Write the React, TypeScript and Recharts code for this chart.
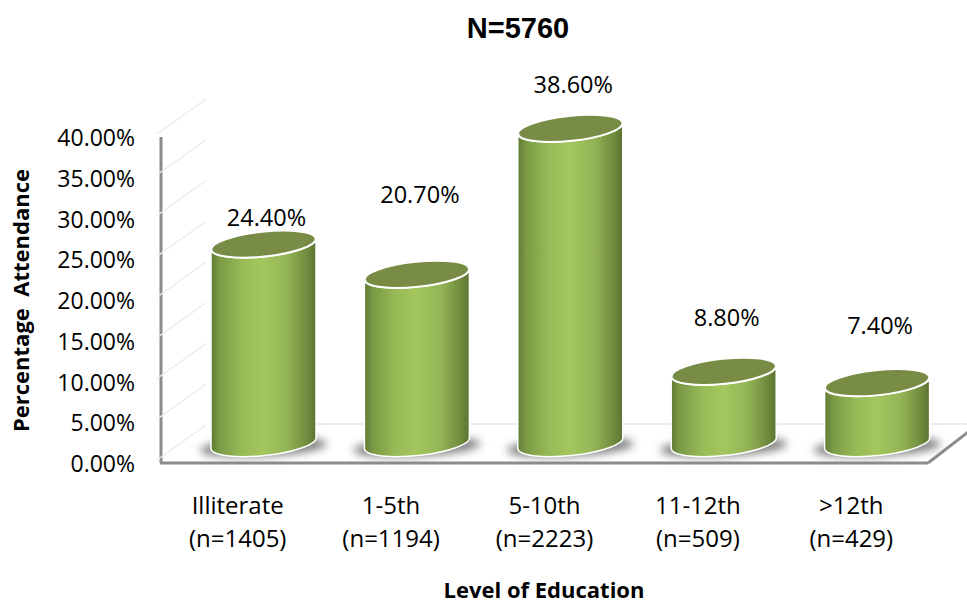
import React from 'react'
import {
  BarChart,
  Bar,
  XAxis,
  YAxis,
  LabelList,
  usePlotArea,
} from 'recharts'

const levels = ['Illiterate', '1-5th', '5-10th', '11-12th', '>12th']
const counts = ['(n=1405)', '(n=1194)', '(n=2223)', '(n=509)', '(n=429)']
const attendance = [24.4, 20.7, 38.6, 8.8, 7.4]
const yTicks = [0, 5, 10, 15, 20, 25, 30, 35, 40]

const data = levels.map((level, i) => ({
  level,
  count: counts[i],
  attendance: attendance[i],
}))

// the labels float at uneven heights above the bars in the original
const labelLift = [47, 101, 65, 75, 78]

const FONT = '"Open Sans", sans-serif'
const DEPTH_X = 26
const DEPTH_Y = 20

const Cylinder = (props: any) => {
  const { x, y, width, height } = props
  const cx = x + width / 2 + DEPTH_X
  const top = y - DEPTH_Y
  const bottom = y + height - DEPTH_Y
  const rx = width / 2
  const ry = 12.5
  const dy = 6
  const body =
    `M${cx - rx} ${top + dy} L${cx - rx} ${bottom + dy} ` +
    `A${rx} ${ry} -6 0 0 ${cx + rx} ${bottom - dy} ` +
    `L${cx + rx} ${top - dy} ` +
    `A${rx} ${ry} -6 0 1 ${cx - rx} ${top + dy} Z`
  return (
    <g>
      <ellipse
        cx={cx}
        cy={bottom + 4}
        rx={rx + 11}
        ry={ry - 3}
        transform={`rotate(-3 ${cx} ${bottom + 4})`}
        fill="#808080"
        filter="url(#floorBlur)"
      />
      <path d={body} fill="url(#cylinderSide)" stroke="#ffffff" strokeWidth={1.5} />
      <ellipse
        cx={cx}
        cy={top}
        rx={rx}
        ry={ry}
        transform={`rotate(-6 ${cx} ${top})`}
        fill="#788c45"
        stroke="#ffffff"
        strokeWidth={2}
      />
    </g>
  )
}

// floor and walls of the fake 3d box
const Floor = () => {
  const plot = usePlotArea()
  if (!plot) return null
  const left = plot.x
  const right = plot.x + plot.width
  const base = plot.y + plot.height
  return (
    <g>
      <defs>
        <linearGradient id="cylinderSide" x1="0" y1="0" x2="1" y2="0">
          <stop offset="0%" stopColor="#5f7a35" />
          <stop offset="8%" stopColor="#7a9a45" />
          <stop offset="30%" stopColor="#98bb57" />
          <stop offset="50%" stopColor="#a3c65e" />
          <stop offset="72%" stopColor="#94b556" />
          <stop offset="92%" stopColor="#6f8a3d" />
          <stop offset="100%" stopColor="#5c7332" />
        </linearGradient>
        <filter id="floorBlur" x="-20%" y="-80%" width="140%" height="260%">
          <feGaussianBlur stdDeviation="4" />
        </filter>
      </defs>
      <line x1={left + 54} y1={base - 39} x2={right + 40} y2={base - 39} stroke="#e6e6e6" strokeWidth={1.5} />
      <line x1={right} y1={base} x2={right + 40} y2={base - 31} stroke="#8c8c8c" strokeWidth={3} />
      <line x1={left} y1={plot.y} x2={left} y2={base} stroke="#8c8c8c" strokeWidth={3} />
      <line x1={left - 1} y1={base} x2={right} y2={base} stroke="#8c8c8c" strokeWidth={3} />
    </g>
  )
}

const YTick = (props: any) => {
  const { x, y, payload } = props
  return (
    <g>
      <line x1={x + 4} y1={y - 3} x2={x + 53} y2={y - 38} stroke="#ececec" strokeWidth={1.5} />
      <text x={x - 18} y={y + 3} textAnchor="end" dominantBaseline="middle" fontFamily={FONT} fontSize={23} fill="#000">
        {`${payload.value.toFixed(2)}%`}
      </text>
    </g>
  )
}

const XTick = (props: any) => {
  const { x, y, payload, index } = props
  return (
    <text x={x} textAnchor="middle" fontFamily={FONT} fontSize={24} fill="#000">
      <tspan x={x} y={y + 43}>{payload.value}</tspan>
      <tspan x={x} y={y + 76}>{counts[index]}</tspan>
    </text>
  )
}

const ValueLabel = (props: any) => {
  const { x, y, width, value, index } = props
  return (
    <text
      x={x + width / 2 + DEPTH_X + 3}
      y={y - labelLift[index] + 3}
      textAnchor="middle"
      dominantBaseline="middle"
      fontFamily={FONT}
      fontSize={23.5}
      fill="#000"
    >
      {`${value.toFixed(2)}%`}
    </text>
  )
}

export default function App() {
  return (
    <div style={{ position: 'absolute', left: 0, top: 0 }}>
      <BarChart
        width={967}
        height={603}
        data={data}
        margin={{ top: 137, right: 39, bottom: 0, left: 0 }}
      >
        <text x={518} y={30} textAnchor="middle" dominantBaseline="middle" fontFamily='"Liberation Sans", Arial, sans-serif' fontWeight="bold" fontSize={29} fill="#000">
          N=5760
        </text>
        <text x={544} y={592} textAnchor="middle" dominantBaseline="middle" fontFamily={FONT} fontWeight="bold" fontSize={22} fill="#000">
          Level of Education
        </text>
        <Floor />
        <XAxis
          dataKey="level"
          height={140}
          axisLine={false}
          tickLine={false}
          tick={<XTick />}
          interval={0}
        />
        <YAxis
          width={161}
          domain={[0, 40]}
          ticks={yTicks}
          axisLine={false}
          tickLine={false}
          tick={<YTick />}
          interval={0}
          label={{ value: 'Percentage\u00a0\u00a0Attendance', angle: -90, position: 'insideLeft', offset: 21, dy: 132, fontFamily: FONT, fontWeight: 'bold', fontSize: 22, fill: '#000' }}
        />
        <Bar dataKey="attendance" barSize={105} shape={<Cylinder />} isAnimationActive={false}>
          <LabelList dataKey="attendance" content={<ValueLabel />} />
        </Bar>
      </BarChart>
    </div>
  )
}
